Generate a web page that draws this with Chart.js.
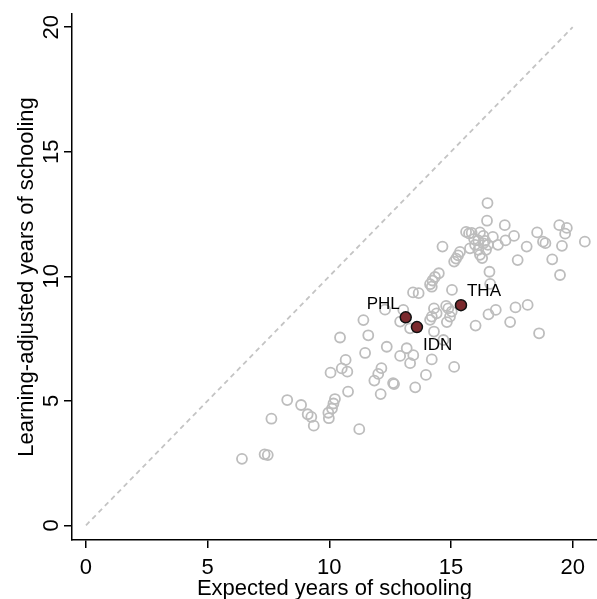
<!DOCTYPE html>
<html><head><meta charset="utf-8">
<script src="https://cdn.jsdelivr.net/npm/chart.js@4.4.0/dist/chart.umd.min.js"></script>
<style>html,body{margin:0;padding:0;background:#fff;overflow:hidden}canvas{display:block}</style>
</head><body>
<canvas id="c" width="597" height="599"></canvas>
<script>
// ---- data ----
const expectedYears = [
 16.50,16.48,17.21,19.45,19.76,19.69,18.54,17.59,17.24,16.72,16.93,18.11,18.78,18.88,19.56,20.50,19.16,19.48,17.74,15.62,
 15.74,15.85,16.19,16.33,15.95,16.12,16.40,15.99,16.33,16.52,15.78,16.12,16.44,16.19,16.28,14.65,15.37,15.29,15.21,15.13,
 16.58,16.61,14.50,14.34,14.24,14.14,14.21,15.04,13.44,13.67,13.04,11.40,12.91,13.32,14.30,14.41,14.21,14.14,14.80,14.89,
 15.03,14.96,14.83,16.01,16.54,16.84,17.65,18.15,17.43,18.62,14.30,14.69,10.44,11.60,12.36,13.18,12.91,13.45,13.32,14.21,
 15.13,11.47,10.67,10.51,10.05,10.74,12.14,12.01,11.85,12.62,12.66,13.97,13.53,12.11,10.77,10.23,10.17,10.11,9.96,9.98,
 8.27,8.84,9.11,9.26,9.36,7.62,11.23,6.41,7.34,7.47,12.29
];
const learningAdjusted = [
 12.94,12.23,12.05,12.05,11.94,11.71,11.76,11.62,11.44,11.58,11.26,11.19,11.39,11.33,11.22,11.39,10.68,10.05,10.65,11.78,
 11.72,11.74,11.76,11.62,11.50,11.44,11.42,11.26,11.32,11.26,11.12,11.06,11.06,10.86,10.73,11.19,10.98,10.84,10.71,10.59,
 10.18,9.69,10.12,9.97,9.83,9.68,9.58,9.45,9.35,9.32,8.65,8.24,8.18,7.91,8.71,8.51,8.38,8.25,8.81,8.71,
 8.58,8.38,8.16,8.02,8.47,8.65,8.75,8.85,8.16,7.71,7.78,7.44,7.54,7.63,7.17,7.11,6.80,6.83,6.51,6.66,
 6.36,6.92,6.64,6.30,6.13,6.17,6.31,6.08,5.81,5.71,5.67,6.04,5.54,5.27,5.37,5.07,4.89,4.69,4.52,4.30,
 5.03,4.83,4.46,4.35,4.00,4.28,3.86,2.67,2.85,2.82,8.66
];
const highlightCodes = ['THA','PHL','IDN'];
const highlightExpected = [15.41,13.14,13.60];
const highlightLearning = [8.84,8.35,7.96];
const parityX = [0,20];
const parityY = [0,20];
const xTicks = [0,5,10,15,20];
const yTicks = [0,5,10,15,20];
const xTitle = 'Expected years of schooling';
const yTitle = 'Learning-adjusted years of schooling';

// ---- chart ----
const FONT = '"Liberation Sans", Arial, Helvetica, sans-serif';
const pts = (xs, ys) => xs.map((x, i) => ({x, y: ys[i]}));

const labelOffsets = { THA: {dx: 6, dy: -14, align: 'left'}, PHL: {dx: -6, dy: -13, align: 'right'}, IDN: {dx: 6, dy: 18, align: 'left'} };

const overlay = {
  id: 'overlay',
  afterDraw(chart) {
    const ctx = chart.ctx, xs = chart.scales.x, ys = chart.scales.y, ca = chart.chartArea;
    ctx.save();
    ctx.fillStyle = '#000';
    ctx.font = '22px ' + FONT;
    ctx.textAlign = 'center';
    ctx.textBaseline = 'middle';
    // rotated y tick labels
    yTicks.forEach(v => {
      const py = ys.getPixelForValue(v);
      ctx.save();
      ctx.translate(52, py);
      ctx.rotate(-Math.PI / 2);
      ctx.fillText(String(v), 0, 0);
      ctx.restore();
    });
    // y title
    ctx.save();
    ctx.translate(27, (ca.top + ca.bottom) / 2);
    ctx.rotate(-Math.PI / 2);
    ctx.fillText(yTitle, 0, 0);
    ctx.restore();
    // x title
    ctx.fillText(xTitle, (ca.left + ca.right) / 2, 589);
    // x tick labels
    ctx.textBaseline = 'alphabetic';
    xTicks.forEach(v => {
      ctx.fillText(String(v), xs.getPixelForValue(v), 574);
    });
    // highlight labels
    ctx.font = '17px ' + FONT;
    ctx.textBaseline = 'middle';
    highlightCodes.forEach((c, i) => {
      const o = labelOffsets[c];
      const px = xs.getPixelForValue(highlightExpected[i]);
      const py = ys.getPixelForValue(highlightLearning[i]);
      ctx.textAlign = o.align;
      ctx.fillText(c, px + o.dx, py + o.dy);
    });
    ctx.restore();
  }
};

new Chart(document.getElementById('c'), {
  data: {
    datasets: [
      { type: 'scatter', data: pts(highlightExpected, highlightLearning), order: 0,
        pointRadius: 5.5, pointBackgroundColor: '#7b2a2e', pointBorderColor: '#111', pointBorderWidth: 1.5 },
      { type: 'scatter', data: pts(expectedYears, learningAdjusted), order: 1,
        pointRadius: 5, pointBackgroundColor: 'rgba(0,0,0,0)', pointBorderColor: '#bdbdbd', pointBorderWidth: 1.8 },
      { type: 'line', data: pts(parityX, parityY), order: 2,
        borderColor: '#c4c4c4', borderWidth: 1.8, borderDash: [5, 4], pointRadius: 0, fill: false }
    ]
  },
  options: {
    responsive: false, animation: false,
    layout: { autoPadding: false, padding: { top: 14, right: 0, left: 0, bottom: 0 } },
    plugins: { legend: { display: false }, tooltip: { enabled: false } },
    scales: {
      x: {
        type: 'linear', position: 'bottom', min: -0.575, max: 21.0,
        afterBuildTicks: s => { s.ticks = xTicks.map(v => ({value: v})); },
        afterFit: s => { s.height = 59; s.paddingLeft = 0; s.paddingRight = 0; },
        grid: { drawOnChartArea: false, drawTicks: true, tickLength: 8, color: '#000', lineWidth: 1.5 },
        border: { display: true, color: '#000', width: 1.5 },
        ticks: { display: false },
        title: { display: false }
      },
      y: {
        type: 'linear', position: 'left', min: -0.59, max: 20.53,
        afterBuildTicks: s => { s.ticks = yTicks.map(v => ({value: v})); },
        afterFit: s => { s.width = 72; s.paddingTop = 0; s.paddingBottom = 0; },
        grid: { drawOnChartArea: false, drawTicks: true, tickLength: 8, color: '#000', lineWidth: 1.5 },
        border: { display: true, color: '#000', width: 1.5 },
        ticks: { display: false },
        title: { display: false }
      }
    }
  },
  plugins: [overlay]
});
</script>
</body></html>
